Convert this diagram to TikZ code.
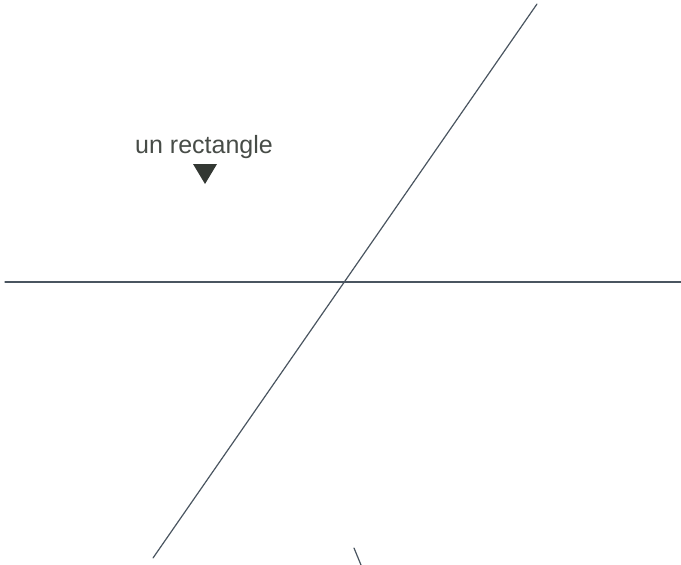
\documentclass[tikz,border=0pt]{standalone}
\usepackage{fontspec}
\setsansfont{Liberation Sans}
\usepackage{xcolor}
\definecolor{lnslate}{HTML}{4A5560}
\definecolor{mkdark}{HTML}{333833}
\usetikzlibrary{positioning}
\tikzset{
  every picture/.style={line cap=round, line join=round},
  lbl/.style={font=\sffamily\fontsize{25}{29}\selectfont, text=mkdark!90, inner sep=0pt},
  axisline/.style={lnslate, line width=1.2pt},
  marker/.style={fill=mkdark},
}

\begin{document}
\begin{tikzpicture}[x=1pt, y=-1pt]
\useasboundingbox (0,0) rectangle (681,565);
% the two lines
\coordinate (hl) at (5,282);
\coordinate (hr) at (681,282);
\coordinate (dtop) at (537,4);
\coordinate (dbot) at (153,558);
\draw[axisline] (hl) -- (hr);
\draw[axisline] (dbot) -- (dtop);
% label with its marker
\node[lbl, anchor=base] (rect) at (204,153) {un rectangle};
\coordinate (mk) at (205,164);
\fill[marker] (mk) ++(-12,0) -- ++(24,0) -- ++(-12,20) -- cycle;
% small stroke at the bottom
\coordinate (tka) at (354,548);
\coordinate (tkb) at (361,565);
\draw[axisline] (tka) -- (tkb);
\end{tikzpicture}
\end{document}
